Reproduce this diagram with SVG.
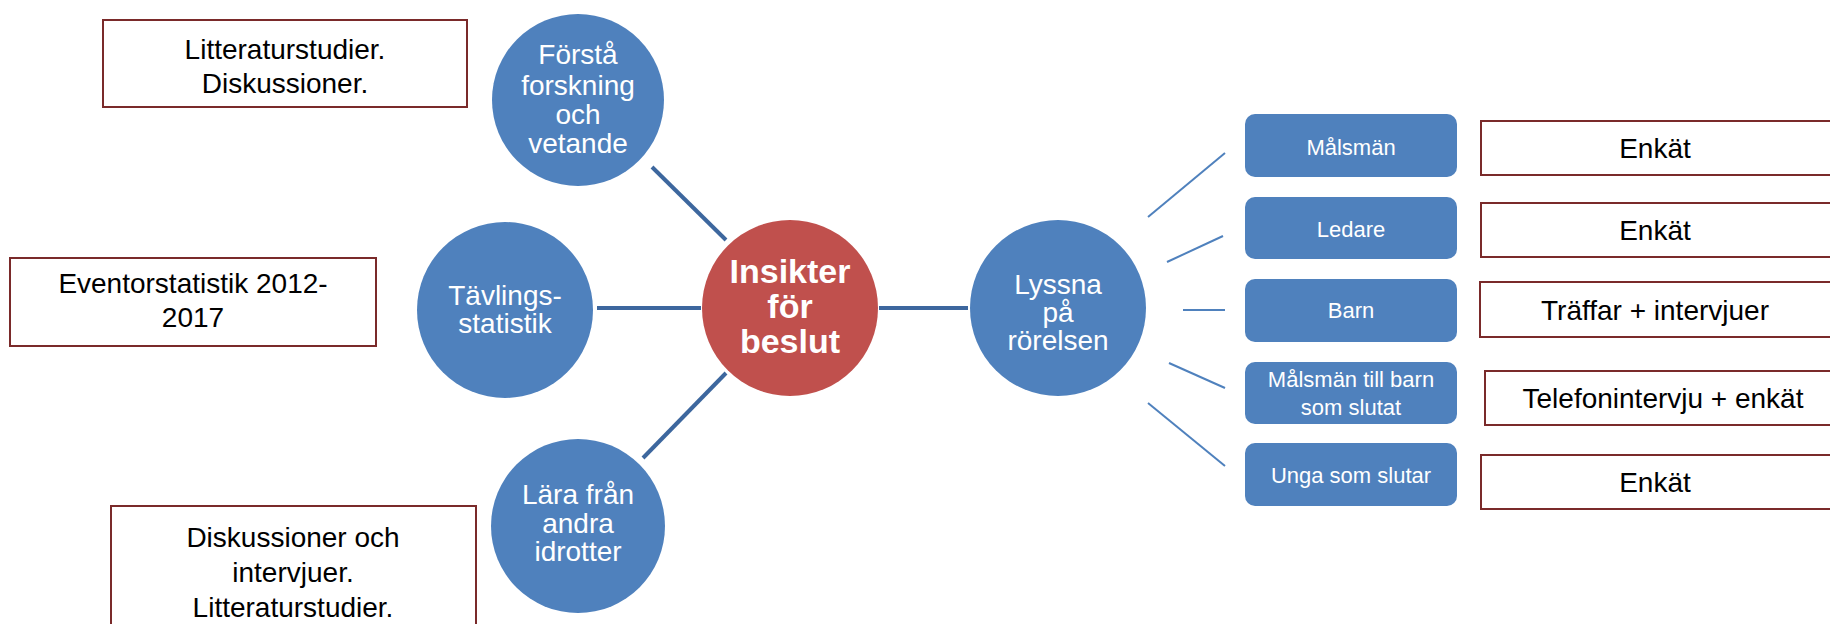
<svg xmlns="http://www.w3.org/2000/svg" width="1830" height="624" viewBox="0 0 1830 624">
<style>
  .bg{fill:#ffffff}
  .circ{fill:#4f81bd}
  .core{fill:#c0504d}
  .ct{font-family:"Liberation Sans",Arial,sans-serif;font-size:28px;fill:#ffffff;text-anchor:middle}
  .cb{font-family:"Liberation Sans",Arial,sans-serif;font-size:34px;font-weight:bold;fill:#ffffff;text-anchor:middle}
  .rb{fill:#4f81bd}
  .rt{font-family:"Liberation Sans",Arial,sans-serif;font-size:22px;fill:#ffffff;text-anchor:middle}
  .ob{fill:#ffffff;stroke:#7a2a2a;stroke-width:2}
  .ot{font-family:"Liberation Sans",Arial,sans-serif;font-size:28px;fill:#000000;text-anchor:middle}
  .thick{stroke:#3d679e;stroke-width:4;fill:none}
  .thin{stroke:#4f81bd;stroke-width:2;fill:none}
</style>
<rect class="bg" x="0" y="0" width="1830" height="624"/>

<g id="connectors">
  <line class="thick" x1="652" y1="167" x2="726" y2="240"/>
  <line class="thick" x1="597" y1="308" x2="701" y2="308"/>
  <line class="thick" x1="879" y1="308" x2="968" y2="308"/>
  <line class="thick" x1="643" y1="458" x2="726" y2="373"/>
  <line class="thin" x1="1148" y1="217" x2="1225" y2="153"/>
  <line class="thin" x1="1167" y1="262" x2="1223" y2="236"/>
  <line class="thin" x1="1183" y1="310" x2="1225" y2="310"/>
  <line class="thin" x1="1169" y1="363" x2="1225" y2="388"/>
  <line class="thin" x1="1148" y1="403" x2="1225" y2="466"/>
</g>

<g id="note-litteratur">
  <rect class="ob" x="103" y="20" width="364" height="87"/>
  <text class="ot" x="285" y="59">Litteraturstudier.</text>
  <text class="ot" x="285" y="93">Diskussioner.</text>
</g>

<g id="note-eventor">
  <rect class="ob" x="10" y="258" width="366" height="88"/>
  <text class="ot" x="193" y="293">Eventorstatistik 2012-</text>
  <text class="ot" x="193" y="327">2017</text>
</g>

<g id="note-diskussioner">
  <rect class="ob" x="111" y="506" width="365" height="140"/>
  <text class="ot" x="293" y="547">Diskussioner och</text>
  <text class="ot" x="293" y="582">intervjuer.</text>
  <text class="ot" x="293" y="617">Litteraturstudier.</text>
</g>

<g id="node-forsta">
  <circle class="circ" cx="578" cy="100" r="86"/>
  <text class="ct" x="578" y="64">Förstå</text>
  <text class="ct" x="578" y="95">forskning</text>
  <text class="ct" x="578" y="124">och</text>
  <text class="ct" x="578" y="153">vetande</text>
</g>

<g id="node-tavlings">
  <circle class="circ" cx="505" cy="310" r="88"/>
  <text class="ct" x="505" y="305">Tävlings-</text>
  <text class="ct" x="505" y="333">statistik</text>
</g>

<g id="node-lara">
  <circle class="circ" cx="578" cy="526" r="87"/>
  <text class="ct" x="578" y="504">Lära från</text>
  <text class="ct" x="578" y="533">andra</text>
  <text class="ct" x="578" y="561">idrotter</text>
</g>

<g id="node-insikter">
  <circle class="core" cx="790" cy="308" r="88"/>
  <text class="cb" x="790" y="283">Insikter</text>
  <text class="cb" x="790" y="318">för</text>
  <text class="cb" x="790" y="353">beslut</text>
</g>

<g id="node-lyssna">
  <circle class="circ" cx="1058" cy="308" r="88"/>
  <text class="ct" x="1058" y="294">Lyssna</text>
  <text class="ct" x="1058" y="322">på</text>
  <text class="ct" x="1058" y="350">rörelsen</text>
</g>

<g id="node-malsman">
  <rect class="rb" x="1245" y="114" width="212" height="63" rx="10"/>
  <text class="rt" x="1351" y="155">Målsmän</text>
</g>
<g id="node-ledare">
  <rect class="rb" x="1245" y="197" width="212" height="62" rx="10"/>
  <text class="rt" x="1351" y="237">Ledare</text>
</g>
<g id="node-barn">
  <rect class="rb" x="1245" y="279" width="212" height="63" rx="10"/>
  <text class="rt" x="1351" y="318">Barn</text>
</g>
<g id="node-malsman-slutat">
  <rect class="rb" x="1245" y="362" width="212" height="62" rx="10"/>
  <text class="rt" x="1351" y="387">Målsmän till barn</text>
  <text class="rt" x="1351" y="415">som slutat</text>
</g>
<g id="node-unga">
  <rect class="rb" x="1245" y="443" width="212" height="63" rx="10"/>
  <text class="rt" x="1351" y="483">Unga som slutar</text>
</g>

<g id="note-enkat1">
  <rect class="ob" x="1481" y="121" width="360" height="54"/>
  <text class="ot" x="1655" y="158">Enkät</text>
</g>
<g id="note-enkat2">
  <rect class="ob" x="1481" y="203" width="360" height="54"/>
  <text class="ot" x="1655" y="240">Enkät</text>
</g>
<g id="note-traffar">
  <rect class="ob" x="1480" y="282" width="360" height="55"/>
  <text class="ot" x="1655" y="320">Träffar + intervjuer</text>
</g>
<g id="note-telefon">
  <rect class="ob" x="1485" y="371" width="360" height="54"/>
  <text class="ot" x="1663" y="408">Telefonintervju + enkät</text>
</g>
<g id="note-enkat3">
  <rect class="ob" x="1481" y="455" width="360" height="54"/>
  <text class="ot" x="1655" y="492">Enkät</text>
</g>
</svg>
